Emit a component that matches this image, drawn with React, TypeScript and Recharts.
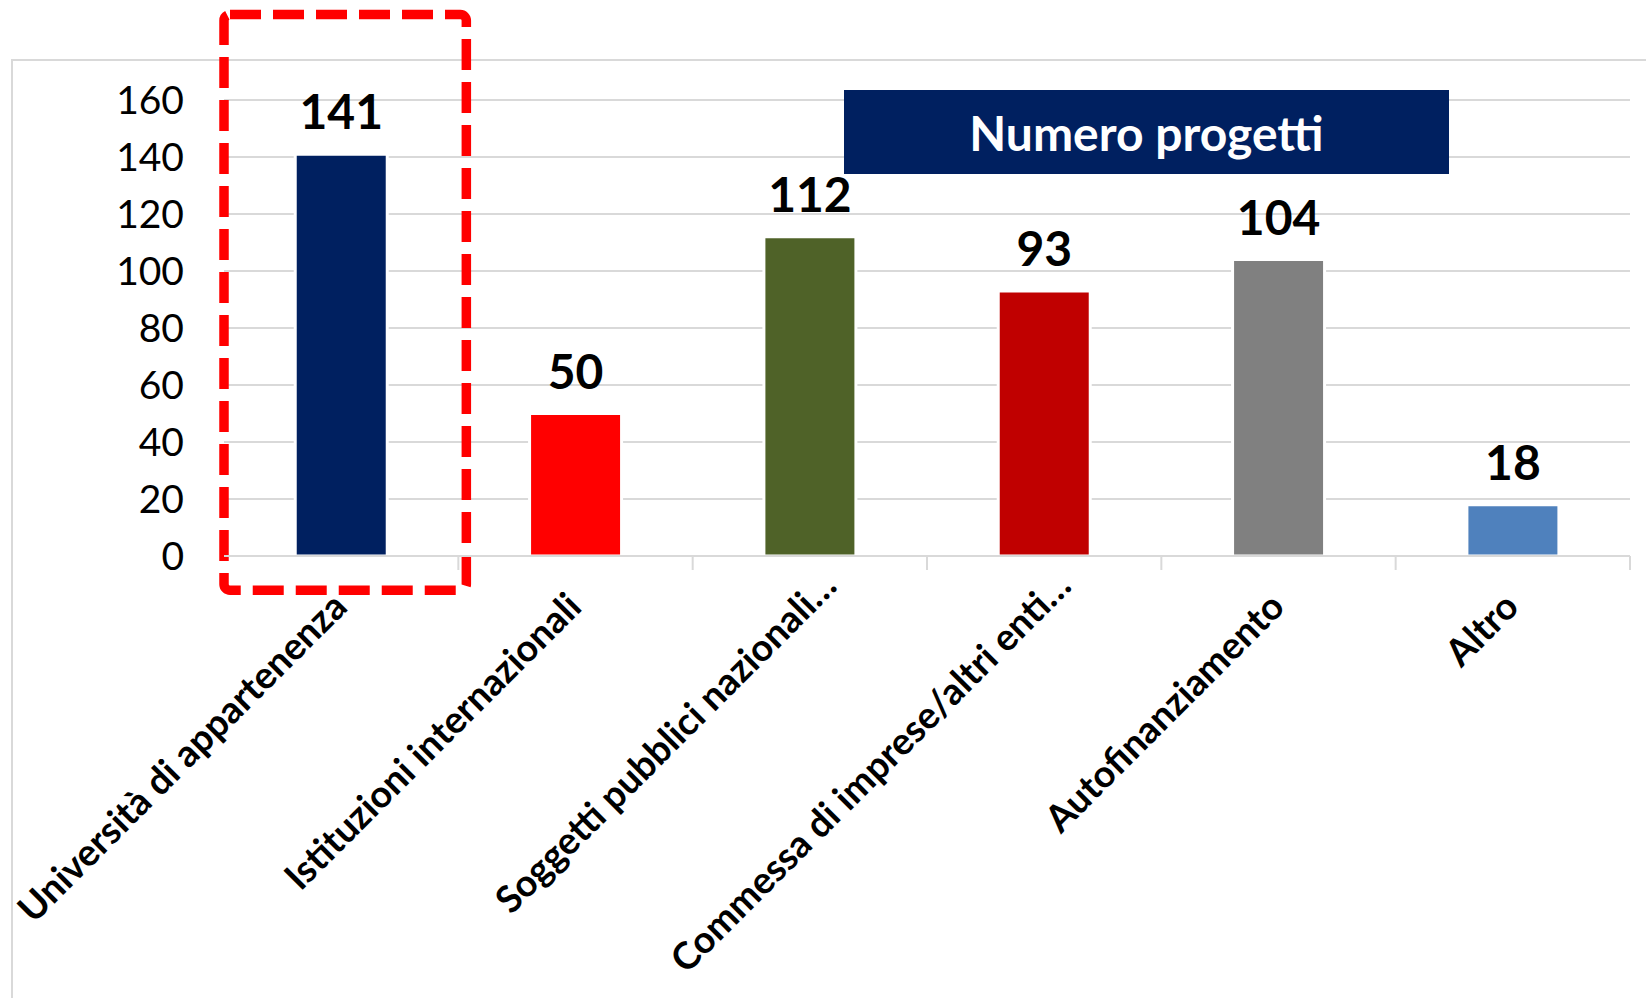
import React from "react"
import { BarChart, Bar, XAxis, YAxis, CartesianGrid, LabelList, Cell, ReferenceArea } from "recharts"

const categories = [
  "Università di appartenenza",
  "Istituzioni internazionali",
  "Soggetti pubblici nazionali…",
  "Commessa di imprese/altri enti…",
  "Autofinanziamento",
  "Altro",
]
const progetti = [141, 50, 112, 93, 104, 18]
const barColors = ["#002060", "#FF0000", "#4F6228", "#C00000", "#808080", "#4F81BD"]
const yTicks = [0, 20, 40, 60, 80, 100, 120, 140, 160]
const chartTitle = "Numero progetti"
const highlighted = categories[0]

const data = categories.map((name, i) => ({ name, value: progetti[i] }))

const W = 1646
const H = 998
const margin = { top: 100, right: 16, bottom: 0, left: 124 }
const yAxisWidth = 100
const band = (W - margin.left - margin.right - yAxisWidth) / categories.length
const gridColor = "#d9d9d9"

function CategoryTick(props: any) {
  const { x, y, payload } = props
  const label = String(payload.value)
  // Excel pushes the truncated labels further along the slope
  const cut = label.endsWith("…") ? 21 : 0
  const ax = x + 8 + cut
  const ay = y + 53 - cut
  return (
    <g>
      <line x1={x + band / 2} y1={y} x2={x + band / 2} y2={y + 14} stroke={gridColor} strokeWidth={2} />
      <text
        x={ax}
        y={ay}
        textAnchor="end"
        transform={`rotate(-45, ${ax}, ${ay})`}
        fontFamily="Lato"
        fontWeight="bold"
        fontSize={37.5}
        fill="#000"
      >
        {label}
      </text>
    </g>
  )
}

function DashedBox(props: any) {
  const { x, y, width, height } = props
  return (
    <rect
      x={x}
      y={y}
      width={width + 8}
      height={height}
      rx={6}
      fill="none"
      stroke="#FF0000"
      strokeWidth={9.5}
      strokeDasharray="31 12"
    />
  )
}

export default function App() {
  return (
    <div style={{ position: "absolute", left: 0, top: 0, width: W, height: H, background: "#fff", overflow: "hidden" }}>
      <div
        style={{
          position: "absolute",
          left: 11,
          top: 59,
          right: -10,
          bottom: -10,
          borderLeft: `2px solid ${gridColor}`,
          borderTop: `2px solid ${gridColor}`,
        }}
      />
      <div style={{ position: "absolute", left: 0, top: 0 }}>
        <BarChart width={W} height={H} data={data} margin={margin} barCategoryGap="30.4%">
          <CartesianGrid vertical={false} stroke={gridColor} strokeWidth={2} />
          <Bar dataKey="value" stroke="#fff" strokeWidth={3} isAnimationActive={false}>
            {data.map((d, i) => (
              <Cell key={d.name} fill={barColors[i]} />
            ))}
            <LabelList
              dataKey="value"
              position="top"
              offset={25}
              fontFamily="Lato"
              fontWeight="bold"
              fontSize={48}
              fill="#000"
              stroke="none"
            />
          </Bar>
          <XAxis
            dataKey="name"
            interval={0}
            height={H - 556}
            axisLine={{ stroke: gridColor, strokeWidth: 2 }}
            tickLine={false}
            tickSize={0}
            tickMargin={0}
            tick={<CategoryTick />}
          />
          <YAxis
            width={yAxisWidth}
            domain={[0, 160]}
            ticks={yTicks}
            interval={0}
            axisLine={false}
            tickLine={false}
            tickSize={0}
            tickMargin={40}
            tick={{ fontFamily: "Lato", fontSize: 39, fill: "#000" }}
          />
          <ReferenceArea
            x1={highlighted}
            x2={highlighted}
            y1={-12}
            y2={190}
            ifOverflow="visible"
            shape={<DashedBox />}
          />
        </BarChart>
      </div>
      <div
        style={{
          position: "absolute",
          left: 844,
          top: 90,
          width: 605,
          height: 84,
          background: "#002060",
          color: "#fff",
          fontFamily: "Lato",
          fontWeight: 700,
          fontSize: 48,
          display: "flex",
          alignItems: "center",
          justifyContent: "center",
        }}
      >
        {chartTitle}
      </div>
    </div>
  )
}
